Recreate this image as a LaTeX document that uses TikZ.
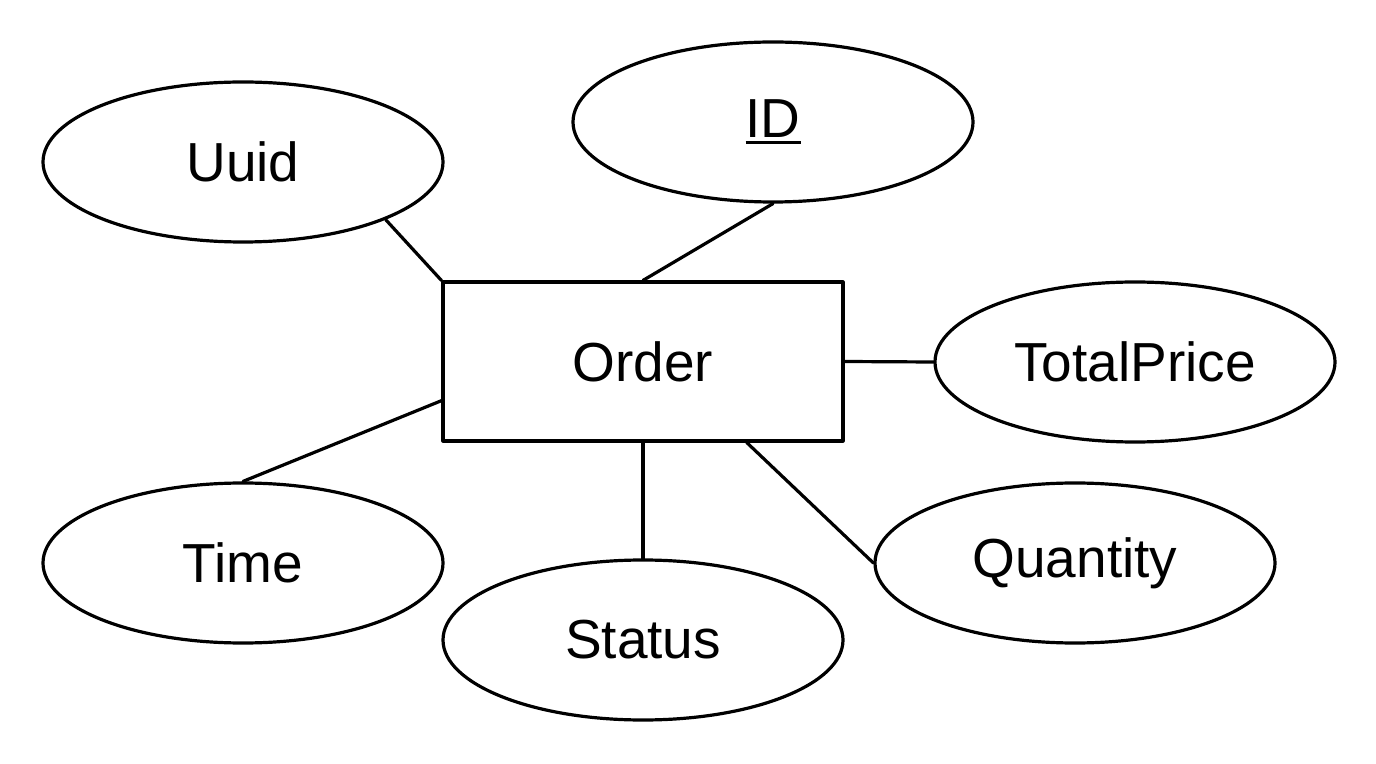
\documentclass[tikz,border=0pt]{standalone}
\usepackage{fontspec}
\setmainfont{Liberation Sans}
\usetikzlibrary{shapes.geometric}
\newcommand{\keyattr}[1]{\setbox0\hbox{#1}\rlap{\rule[-3pt]{\wd0}{1.6pt}}#1}
\begin{document}
\begin{tikzpicture}[x=0.5pt,y=-0.5pt,font=\fontsize{27.5}{33}\selectfont,line join=round,line cap=round,line width=1.6pt,
		entity/.style={draw,rectangle,minimum width=200pt,minimum height=79.5pt,inner sep=0pt},
		attr/.style={draw,ellipse,minimum width=200pt,minimum height=80pt,inner sep=0pt}]
				\useasboundingbox (0,0) rectangle (1376,764);
				
				\node[entity] (order) at (643,361.5) {Order};
				
				\node[attr] (uuid) at (243,162) {Uuid};
				\node[attr] (id) at (773,122) {\keyattr{ID}};
				\node[attr] (total) at (1135,362) {TotalPrice};
				\node[attr] (time) at (243,563) {Time};
				\node[attr] (status) at (643,640) {Status};
				\node[attr] (qty) at (1075,563) {Quantity};
				
				\draw (uuid.-22) -- (order.north west);
				\draw (id.south) -- (order.north);
				\draw (order.east) -- (total.west);
				\draw (order.191.7) -- (time.north);
				\draw (order.south) -- (status.north);
				\draw (order.-38.5) -- (qty.west);
			\end{tikzpicture}
\end{document}
